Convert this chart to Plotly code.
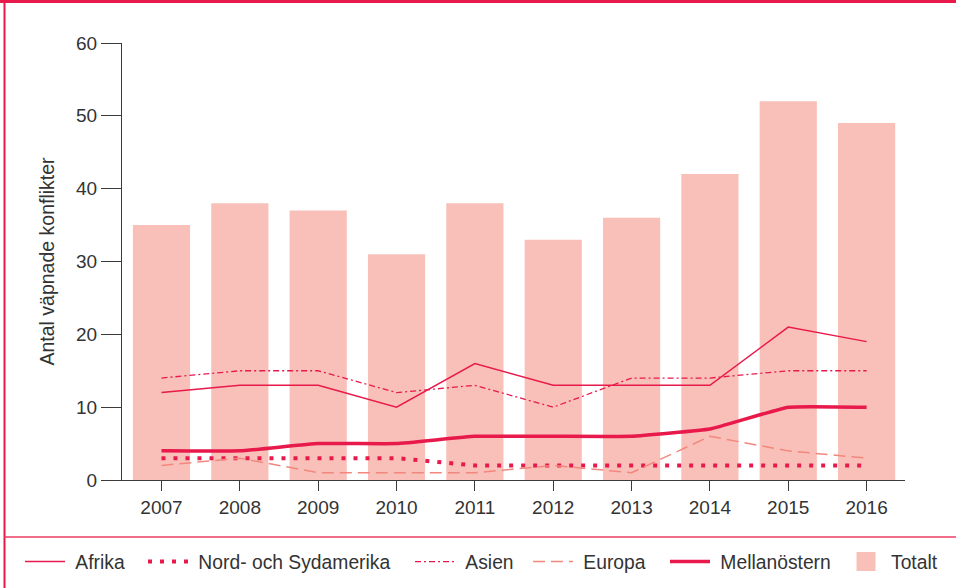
import plotly.graph_objects as go

years = ["2007", "2008", "2009", "2010", "2011", "2012", "2013", "2014", "2015", "2016"]
totalt = [35, 38, 37, 31, 38, 33, 36, 42, 52, 49]
afrika = [12, 13, 13, 10, 16, 13, 13, 13, 21, 19]
amerika = [3, 3, 3, 3, 2, 2, 2, 2, 2, 2]
asien = [14, 15, 15, 12, 13, 10, 14, 14, 15, 15]
europa = [2, 3, 1, 1, 1, 2, 1, 6, 4, 3]
mellanostern = [4, 4, 5, 5, 6, 6, 6, 7, 10, 10]
y_ticks = [0, 10, 20, 30, 40, 50, 60]

RED = "#e8194b"
BAR = "#f9c0b9"
EUR = "#f2877e"
FONT = "Liberation Sans"
NB = "\u00a0"

W, H = 956, 588
L, R, T, B = 122, 905, 43, 480
pw, ph = R - L, B - T

def px(x):
    return (x - L) / pw

def py(y):
    return (B - y) / ph

fig = go.Figure()
fig.add_trace(go.Bar(x=years, y=totalt, name="Totalt", marker=dict(color=BAR, line=dict(width=0)),
                     showlegend=False, legendgroup="tot"))
fig.add_trace(go.Scatter(x=years, y=afrika, name=NB + "Afrika", mode="lines",
                         line=dict(color=RED, width=1.5), legend="legend"))
fig.add_trace(go.Scatter(x=years, y=amerika, name=NB + "Nord- och Sydamerika", mode="lines",
                         line=dict(color=RED, width=4, dash="4px,8px"), legend="legend2"))
fig.add_trace(go.Scatter(x=years, y=asien, name=NB + "Asien", mode="lines",
                         line=dict(color=RED, width=1.3, dash="6px,3px,2px,3px"), legend="legend3"))
fig.add_trace(go.Scatter(x=years, y=europa, name=NB + "Europa", mode="lines",
                         line=dict(color=EUR, width=1.5, dash="12px,6px"), legend="legend4"))
fig.add_trace(go.Scatter(x=years, y=mellanostern, name=NB + "Mellanöstern", mode="lines",
                         line=dict(color=RED, width=3.5, shape="spline", smoothing=0.3), legend="legend5"))
# legend entry for the bars (larger swatch)
fig.add_trace(go.Scatter(x=[None], y=[None], name="Totalt", mode="markers", legendgroup="tot",
                         marker=dict(symbol="square", size=16, color=BAR, line=dict(color=BAR, width=3)),
                         legend="legend6", hoverinfo="skip"))

shapes = [
    dict(type="line", xref="paper", yref="paper", x0=px(0), x1=px(W), y0=py(1.5), y1=py(1.5),
         line=dict(color=RED, width=3)),
    dict(type="line", xref="paper", yref="paper", x0=px(4.5), x1=px(4.5), y0=py(0), y1=py(H),
         line=dict(color=RED, width=2)),
    dict(type="line", xref="paper", yref="paper", x0=px(4.5), x1=px(W), y0=py(537), y1=py(537),
         line=dict(color="#ec3d63", width=1.5)),
]

legend_starts = [20, 143, 410, 528, 665, 841]

def leg(xs):
    return dict(orientation="h", x=px(xs), y=py(562), xanchor="left", yanchor="middle",
                font=dict(size=19.3, color="#333333"), itemwidth=40, bgcolor="rgba(0,0,0,0)")

legends = {("legend" if i == 0 else "legend%d" % (i + 1)): leg(xs) for i, xs in enumerate(legend_starts)}

fig.update_layout(
    width=W, height=H,
    margin=dict(l=L, r=W - R, t=T, b=H - B, autoexpand=False),
    paper_bgcolor="white", plot_bgcolor="white",
    font=dict(family=FONT, size=18, color="#333333"),
    bargap=0.27,
    showlegend=True,
    shapes=shapes,
    xaxis=dict(type="category", range=[-0.504, 9.49], showline=True, linecolor="#3a3a3a", linewidth=1.3,
               ticks="outside", ticklen=10, tickcolor="#3a3a3a", tickwidth=1.3,
               showgrid=False, zeroline=False, tickfont=dict(size=19, color="#333333")),
    yaxis=dict(range=[0, 60], tickvals=y_ticks, showline=True, linecolor="#3a3a3a", linewidth=1.3,
               ticks="outside", ticklen=20, tickcolor="#3a3a3a", tickwidth=1.3,
               showgrid=False, zeroline=False, tickfont=dict(size=19, color="#333333"),
               title=dict(text="Antal väpnade konflikter", font=dict(size=19.5, color="#333333"),
                          standoff=16)),
    **legends,
)

fig.write_html("out.html", config={"displayModeBar": False},
               post_script="document.body.style.margin='0';document.body.style.overflow='hidden';")
